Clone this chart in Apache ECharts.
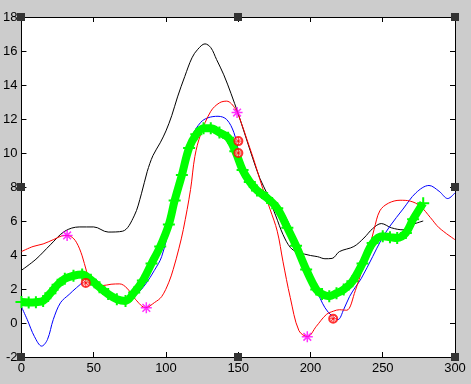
<!DOCTYPE html>
<html>
<head>
<meta charset="utf-8">
<script src="https://cdn.jsdelivr.net/npm/echarts@6/dist/echarts.min.js"></script>
<style>
  html, body { margin: 0; padding: 0; background: #cccccc; }
  #main { width: 471px; height: 384px; }
</style>
</head>
<body>
<div id="main"></div>
<script>
// curves
var blackX = [0, 10, 20, 30, 40, 50, 60, 70, 78, 83, 87, 91, 96, 100, 104, 108, 113, 118, 122, 127, 131, 135, 140, 145, 150, 155, 160, 165, 170, 176, 181, 186, 191, 196, 200, 205, 210, 215, 220, 230, 237, 243, 249, 256, 264, 271, 278];
var blackY = [3.1, 3.75, 4.6, 5.4, 5.65, 5.65, 5.35, 5.4, 6.3, 7.6, 8.9, 9.85, 10.6, 11.3, 12.2, 13.3, 14.5, 15.6, 16.1, 16.42, 16.2, 15.5, 14.6, 13.5, 12.3, 11.0, 9.7, 8.5, 7.6, 6.3, 5.2, 4.45, 4.15, 4.05, 3.97, 3.9, 3.78, 3.8, 4.2, 4.5, 5.0, 5.55, 5.85, 5.6, 5.48, 5.8, 6.0];

var redX = [0, 8, 15, 22, 30, 34, 38, 42, 45, 48, 52, 56, 62, 68, 73, 79, 86, 92, 97, 102, 105, 109, 112, 117, 120, 124, 131, 137, 142, 148, 152, 156, 160, 163, 167, 172, 177, 181, 186, 192, 198, 204, 211, 216, 220, 225, 231, 236, 240, 244, 248, 254, 262, 269, 276, 283, 289, 300];
var redY = [4.2, 4.5, 4.65, 4.9, 5.15, 5.1, 4.75, 3.95, 3.05, 2.4, 2.2, 2.2, 2.28, 2.3, 2.05, 1.38, 0.9, 1.2, 1.55, 2.4, 3.15, 4.4, 5.5, 7.85, 9.8, 11.1, 12.45, 12.95, 13.05, 12.6, 11.8, 10.8, 9.8, 9.0, 7.9, 6.7, 5.4, 3.6, 1.5, -0.45, -0.8, -0.2, 0.5, 0.7, 0.78, 0.75, 1.9, 3.2, 4.2, 5.5, 6.6, 7.05, 7.22, 7.17, 6.87, 6.2, 5.6, 4.9];

var blueX = [0, 4, 9, 14, 18, 22, 27, 33, 38, 44, 50, 56, 62, 68, 74, 80, 86, 92, 97, 103, 108, 113, 118, 124, 129, 136, 142, 147, 151, 156, 163, 170, 175, 181, 187, 193, 198, 204, 210, 215, 219, 223, 227, 231, 235, 243, 249, 255, 264, 273, 282, 289, 295, 300];
var blueY = [0.95, 0.2, -0.8, -1.36, -0.97, 0.2, 1.19, 1.68, 2.07, 2.46, 2.6, 2.1, 1.6, 1.25, 1.3, 1.7, 2.3, 3.1, 3.9, 5.9, 8.0, 9.8, 11.0, 11.8, 12.07, 12.16, 11.97, 11.2, 9.9, 8.84, 8.05, 7.6, 7.2, 6.5, 5.5, 4.3, 3.2, 1.97, 0.9, 0.4, 0.2, 0.8, 1.55, 2.1, 2.6, 3.9, 4.9, 5.7, 6.7, 7.66, 8.09, 7.75, 7.32, 7.66];

var greenX = [0, 5, 10, 15, 20, 25, 30, 36, 42, 48, 54, 60, 66, 72, 78, 84, 90, 96, 102, 106, 111, 116, 121, 126, 131, 137, 143, 148, 153, 158, 163, 170, 177, 184, 190, 197, 204, 208, 213, 218, 223, 229, 236, 243, 250, 255, 260, 266, 271, 278];
var greenY = [1.23, 1.2, 1.22, 1.3, 1.75, 2.25, 2.6, 2.78, 2.85, 2.55, 2.1, 1.7, 1.4, 1.3, 1.8, 2.5, 3.5, 4.5, 5.8, 7.2, 8.7, 10.3, 11.1, 11.45, 11.45, 11.2, 10.9, 10.1, 9.0, 8.3, 7.8, 7.35, 6.75, 5.6, 4.55, 3.15, 1.97, 1.7, 1.58, 1.75, 1.97, 2.45, 3.5, 4.7, 5.1, 5.05, 5.0, 5.3, 6.1, 7.05];

// point markers
var starX = [31.6, 86.4, 149.2, 197.8];
var starY = [5.15, 0.89, 12.38, -0.81];
var circleX = [44.5, 150.1, 150.1, 215.7];
var circleY = [2.36, 10.7, 10.0, 0.25];

// axis ticks: min, max, step
var xTicks = [0, 300, 50];
var yTicks = [-2, 18, 2];

function pairs(xs, ys) {
    var res = [];
    for (var i = 0; i < xs.length; i++) {
        res.push([xs[i], ys[i]]);
    }
    return res;
}

var asterisk = 'path://M0,5L10,5M5,0L5,10M1.5,1.5L8.5,8.5M8.5,1.5L1.5,8.5';
var plus = 'path://M5,0L5,10M0,5L10,5';
var font = 'Liberation Sans';

var myChart = echarts.init(document.getElementById('main'));

var axisBase = {
    type: 'value',
    axisLine: {show: true, onZero: false, lineStyle: {color: '#000', width: 1}},
    axisTick: {show: true, inside: true, length: 5, lineStyle: {color: '#000'}},
    splitLine: {show: false}
};

function lineSeries(name, xs, ys, color, z) {
    return {
        name: name,
        type: 'line',
        data: pairs(xs, ys),
        smooth: 0.35,
        showSymbol: false,
        lineStyle: {color: color, width: 1},
        z: z
    };
}

var option = {
    animation: false,
    backgroundColor: '#cccccc',
    grid: {
        left: 21, right: 16, top: 17, bottom: 27,
        show: true, backgroundColor: '#ffffff', borderWidth: 0
    },
    xAxis: [
        Object.assign({}, axisBase, {
            min: xTicks[0], max: xTicks[1], interval: xTicks[2], position: 'bottom',
            axisLabel: {color: '#000', fontFamily: font, fontSize: 13, margin: 5}
        }),
        Object.assign({}, axisBase, {
            min: xTicks[0], max: xTicks[1], interval: xTicks[2], position: 'top',
            axisLabel: {show: false}
        })
    ],
    yAxis: [
        Object.assign({}, axisBase, {
            min: yTicks[0], max: yTicks[1], interval: yTicks[2], position: 'left',
            axisLabel: {color: '#000', fontFamily: font, fontSize: 13, margin: 4}
        }),
        Object.assign({}, axisBase, {
            min: yTicks[0], max: yTicks[1], interval: yTicks[2], position: 'right',
            axisLabel: {show: false}
        })
    ],
    series: [
        lineSeries('black', blackX, blackY, '#000000', 2),
        lineSeries('blue', blueX, blueY, '#0000ff', 3),
        lineSeries('red', redX, redY, '#ff0000', 4),
        {
            name: 'green',
            type: 'line',
            data: pairs(greenX, greenY),
            smooth: 0.35,
            showSymbol: true,
            symbol: plus,
            symbolSize: 12,
            itemStyle: {color: 'rgba(0,0,0,0)', borderColor: '#00ff00', borderWidth: 2},
            lineStyle: {color: '#00ff00', width: 8},
            z: 5
        },
        {
            name: 'circles',
            type: 'scatter',
            data: pairs(circleX, circleY),
            symbol: 'emptyCircle',
            symbolSize: 8,
            itemStyle: {color: '#ff0000', borderColor: '#ff0000', borderWidth: 1},
            z: 6
        },
        {
            name: 'circleStars',
            type: 'scatter',
            data: pairs(circleX, circleY),
            symbol: asterisk,
            symbolSize: 7,
            itemStyle: {color: 'rgba(0,0,0,0)', borderColor: '#ff0000', borderWidth: 1},
            z: 6
        },
        {
            name: 'stars',
            type: 'scatter',
            data: pairs(starX, starY),
            symbol: asterisk,
            symbolSize: 11,
            itemStyle: {color: 'rgba(0,0,0,0)', borderColor: '#ff00ff', borderWidth: 1.5},
            z: 7
        }
    ]
};
myChart.setOption(option);

// selection handles round the axes box
var handles = [];
var hx = [xTicks[0], (xTicks[0] + xTicks[1]) / 2, xTicks[1]];
var hy = [yTicks[0], (yTicks[0] + yTicks[1]) / 2, yTicks[1]];
for (var i = 0; i < 3; i++) {
    for (var j = 0; j < 3; j++) {
        if (i == 1 && j == 1) continue;
        var p = myChart.convertToPixel({gridIndex: 0}, [hx[i], hy[j]]);
        handles.push({
            type: 'rect',
            shape: {x: Math.round(p[0]) - 4, y: Math.round(p[1]) - 4, width: 8, height: 8},
            style: {fill: '#333333'},
            z: 100
        });
    }
}
myChart.setOption({graphic: handles});
</script>
</body>
</html>
